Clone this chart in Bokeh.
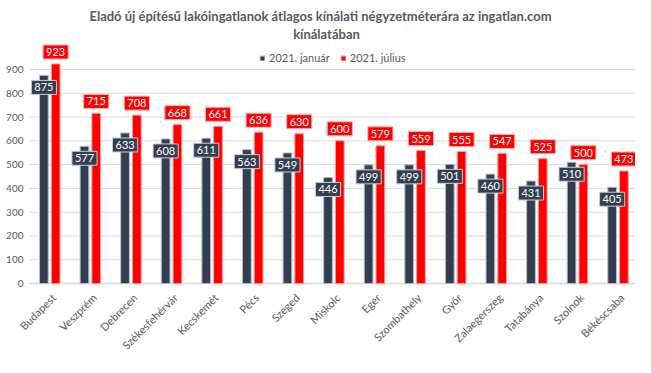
import math
from bokeh.plotting import figure
from bokeh.models import ColumnDataSource, Range1d, Label
from bokeh.core.properties import value
from bokeh.transform import dodge
from bokeh.embed import file_html
from bokeh.resources import INLINE

# ---- data ----
cities = ["Budapest", "Veszprém", "Debrecen", "Székesfehérvár", "Kecskemét",
          "Pécs", "Szeged", "Miskolc", "Eger", "Szombathely", "Győr",
          "Zalaegerszeg", "Tatabánya", "Szolnok", "Békéscsaba"]
jan_2021 = [875, 577, 633, 608, 611, 563, 549, 446, 499, 499, 501, 460, 431, 510, 405]
jul_2021 = [923, 715, 708, 668, 661, 636, 630, 600, 579, 559, 555, 547, 525, 500, 473]
series_names = ["2021. január", "2021. július"]
y_ticks = [0, 100, 200, 300, 400, 500, 600, 700, 800, 900]
title_lines = ["Eladó új építésű lakóingatlanok átlagos kínálati négyzetméterára az ingatlan.com",
               "kínálatában"]

DARK = "#333f50"
RED = "#ff0000"
GREY = "#595959"
GRID = "#d9d9d9"
FONT = "Lato"

n = len(cities)
idx = list(range(n))
src = ColumnDataSource(dict(idx=idx, city=cities, jan=jan_2021, jul=jul_2021,
                            base=[0] * n,
                            jan_s=[str(v) for v in jan_2021],
                            jul_s=[str(v) for v in jul_2021]))
tick_src = ColumnDataSource(dict(y=y_ticks, lab=[str(t) for t in y_ticks],
                                 x0=[idx[0] - 0.5] * len(y_ticks),
                                 x1=[idx[-1] + 0.5] * len(y_ticks)))

p = figure(width=635, height=357, x_range=Range1d(-1.214, 14.43),
           y_range=Range1d(-311, 1190), output_backend="svg", toolbar_location=None,
           min_border_left=0, min_border_right=0, min_border_top=0,
           min_border_bottom=0)
p.axis.visible = False
p.grid.visible = False
p.outline_line_color = None
p.background_fill_color = "white"
p.border_fill_color = "white"

# gridlines, baseline and y tick labels
p.segment(x0="x0", x1="x1", y0="y", y1="y", source=tick_src,
          line_color=GRID, line_width=1)
p.segment(x0=[idx[0] - 0.5], x1=[idx[-1] + 0.5], y0=[0], y1=[0],
          line_color=GRID, line_width=1.5)
p.text(x="x0", y="y", text="lab", source=tick_src, x_offset=-6,
       text_align="right", text_baseline="middle", text_color=GREY,
       text_font=value(FONT), text_font_size="10px")

p.vbar(x=dodge("idx", -0.145), top="jan", width=0.215, source=src,
       fill_color=DARK, line_color="#b4bcc8", line_width=1, legend_label=series_names[0])
p.vbar(x=dodge("idx", 0.145), top="jul", width=0.215, source=src,
       fill_color=RED, line_color="#ff9a9a", line_width=1, legend_label=series_names[1])

p.text(x=dodge("idx", -0.145), y="jan", text="jan_s", source=src,
       y_offset=12, text_align="center", text_baseline="middle",
       text_color="white", text_font=value(FONT), text_font_size="11px",
       background_fill_color=DARK, border_line_color="#c8ced6",
       border_line_width=1, padding=3)
p.text(x=dodge("idx", 0.145), y="jul", text="jul_s", source=src,
       y_offset=-12, text_align="center", text_baseline="middle",
       text_color="white", text_font=value(FONT), text_font_size="11px",
       background_fill_color=RED, border_line_color="#ffb0b0",
       border_line_width=1, padding=3)

# category labels (rotated, below the baseline)
p.text(x="idx", y="base", text="city", source=src, angle=math.pi / 4,
       x_offset=4, y_offset=12, text_align="right", text_baseline="middle",
       text_color=GREY, text_font=value(FONT), text_font_size="11px")

# title
for line, xs, ys in zip(title_lines, [320, 326], [342, 324]):
    p.add_layout(Label(x=xs, y=ys, x_units="screen", y_units="screen", text=line,
                       text_align="center", text_baseline="middle", text_color=GREY,
                       text_font=FONT, text_font_size="13px", text_font_style="bold"))

# legend
lg = p.legend[0]
lg.location = (259, 293)
lg.orientation = "horizontal"
lg.border_line_color = None
lg.background_fill_alpha = 0
lg.padding = 0
lg.margin = 0
lg.spacing = 10
lg.glyph_width = 6
lg.glyph_height = 6
lg.label_height = 12
lg.label_standoff = 4
lg.label_text_font = FONT
lg.label_text_font_size = "11px"
lg.label_text_color = GREY

open("out.html", "w").write(file_html(p, INLINE))
